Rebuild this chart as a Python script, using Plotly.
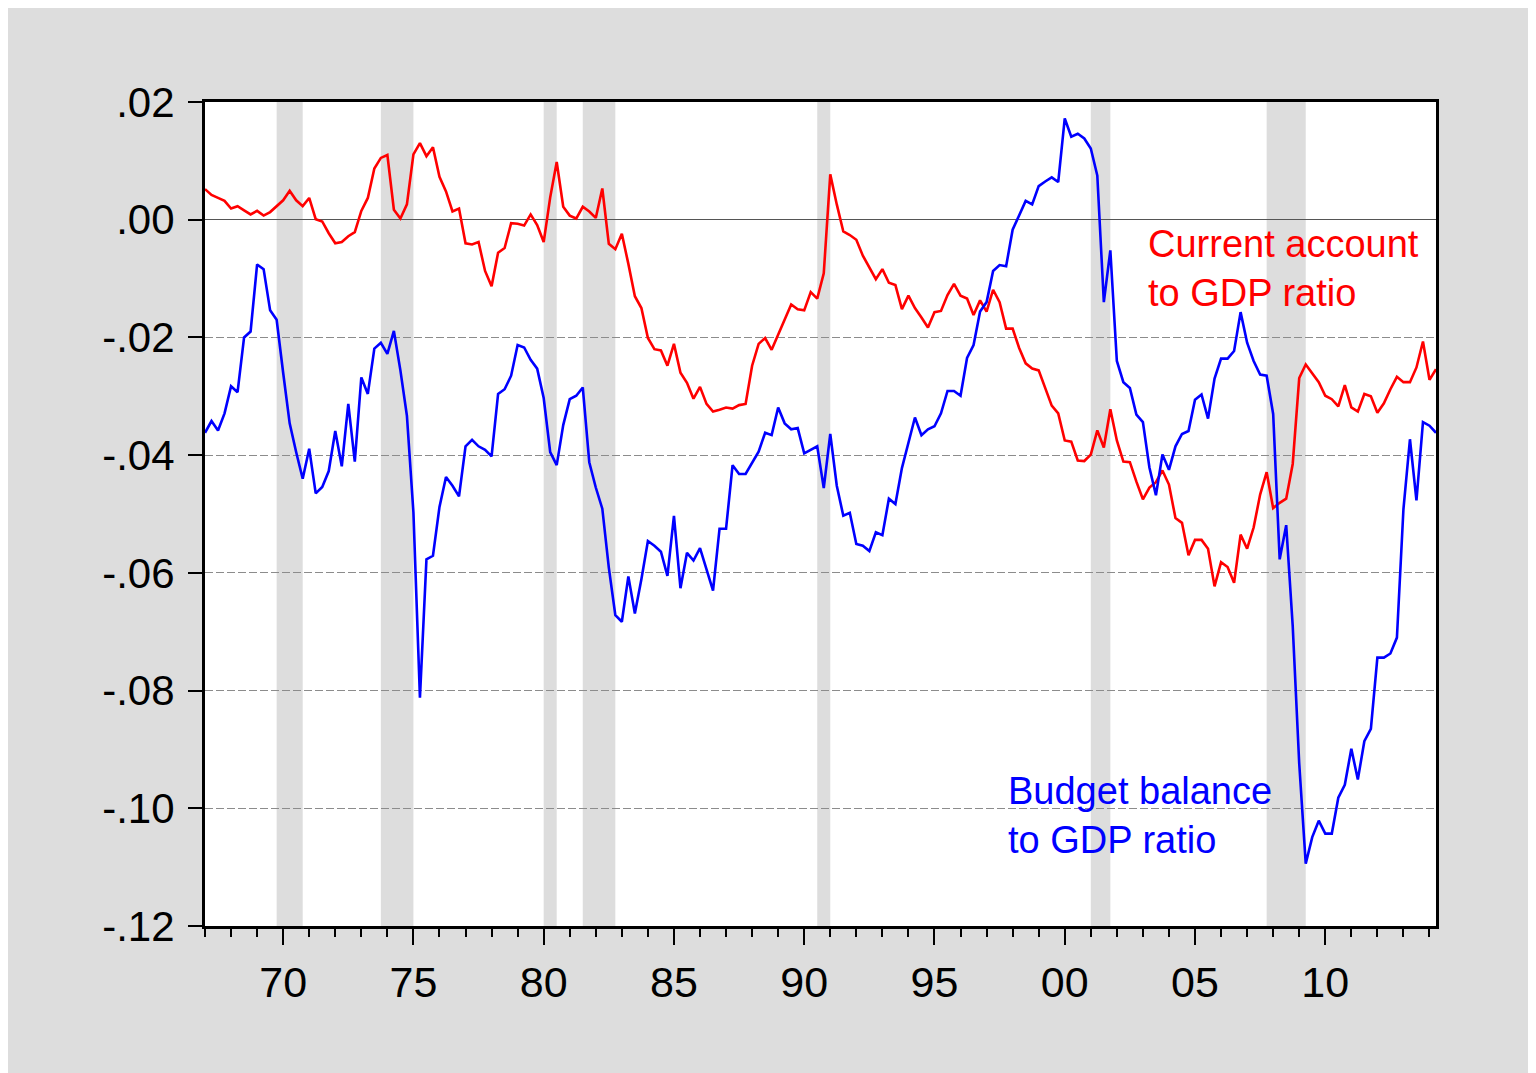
import numpy as np
import plotly.graph_objects as go

# ---------------- data (quarterly, 1967Q1 - 2014Q2) ----------------
start_year = 1967

current_account = [
    0.0052, 0.0042, 0.0037, 0.0032, 0.0019, 0.0023, 0.0016, 0.0009, 0.0015, 0.0007,
    0.0013, 0.0023, 0.0033, 0.0049, 0.0033, 0.0023, 0.0037, 0.0001, -0.0003, -0.0023,
    -0.0040, -0.0038, -0.0028, -0.0021, 0.0015, 0.0037, 0.0087, 0.0105, 0.0110, 0.0017,
    0.0002, 0.0026, 0.0111, 0.0130, 0.0108, 0.0123, 0.0073, 0.0048, 0.0014, 0.0019,
    -0.0040, -0.0042, -0.0038, -0.0087, -0.0113, -0.0056, -0.0048, -0.0006, -0.0007, -0.0010,
    0.0009, -0.0009, -0.0038, 0.0038, 0.0098, 0.0022, 0.0007, 0.0002, 0.0022, 0.0014,
    0.0003, 0.0053, -0.0041, -0.0050, -0.0024, -0.0075, -0.0130, -0.0150, -0.0201, -0.0220,
    -0.0222, -0.0248, -0.0211, -0.0260, -0.0277, -0.0304, -0.0284, -0.0313, -0.0326, -0.0323,
    -0.0319, -0.0321, -0.0315, -0.0313, -0.0248, -0.0211, -0.0201, -0.0221, -0.0195, -0.0168,
    -0.0144, -0.0152, -0.0154, -0.0123, -0.0134, -0.0091, 0.0077, 0.0026, -0.0020, -0.0026,
    -0.0034, -0.0061, -0.0081, -0.0101, -0.0084, -0.0107, -0.0111, -0.0152, -0.0129, -0.0150,
    -0.0166, -0.0183, -0.0157, -0.0155, -0.0128, -0.0109, -0.0129, -0.0134, -0.0162, -0.0137,
    -0.0156, -0.0119, -0.0140, -0.0185, -0.0185, -0.0218, -0.0244, -0.0253, -0.0256, -0.0286,
    -0.0316, -0.0329, -0.0375, -0.0377, -0.0409, -0.0410, -0.0399, -0.0358, -0.0387, -0.0322,
    -0.0375, -0.0411, -0.0412, -0.0445, -0.0475, -0.0455, -0.0446, -0.0426, -0.0450, -0.0507,
    -0.0515, -0.0570, -0.0544, -0.0544, -0.0559, -0.0623, -0.0582, -0.0590, -0.0617, -0.0535,
    -0.0559, -0.0523, -0.0467, -0.0429, -0.0490, -0.0481, -0.0474, -0.0415, -0.0269, -0.0246,
    -0.0260, -0.0276, -0.0299, -0.0305, -0.0317, -0.0281, -0.0319, -0.0326, -0.0296, -0.0300,
    -0.0328, -0.0312, -0.0288, -0.0267, -0.0276, -0.0276, -0.0251, -0.0207, -0.0272, -0.0254,
]

budget_balance = [
    -0.0362, -0.0342, -0.0358, -0.0329, -0.0283, -0.0293, -0.0200, -0.0190, -0.0076, -0.0084,
    -0.0154, -0.0170, -0.0260, -0.0346, -0.0395, -0.0440, -0.0389, -0.0465, -0.0454, -0.0427,
    -0.0359, -0.0419, -0.0313, -0.0411, -0.0268, -0.0296, -0.0219, -0.0209, -0.0228, -0.0189,
    -0.0256, -0.0333, -0.0497, -0.0812, -0.0577, -0.0571, -0.0488, -0.0437, -0.0452, -0.0470,
    -0.0385, -0.0374, -0.0385, -0.0391, -0.0402, -0.0296, -0.0288, -0.0265, -0.0213, -0.0217,
    -0.0238, -0.0253, -0.0303, -0.0395, -0.0417, -0.0349, -0.0305, -0.0299, -0.0285, -0.0412,
    -0.0455, -0.0491, -0.0591, -0.0672, -0.0683, -0.0606, -0.0669, -0.0611, -0.0546, -0.0554,
    -0.0564, -0.0605, -0.0503, -0.0626, -0.0566, -0.0579, -0.0558, -0.0594, -0.0630, -0.0525,
    -0.0525, -0.0417, -0.0432, -0.0432, -0.0414, -0.0394, -0.0362, -0.0366, -0.0319, -0.0346,
    -0.0356, -0.0354, -0.0397, -0.0391, -0.0385, -0.0456, -0.0364, -0.0452, -0.0503, -0.0498,
    -0.0551, -0.0554, -0.0563, -0.0531, -0.0536, -0.0474, -0.0483, -0.0422, -0.0377, -0.0336,
    -0.0366, -0.0356, -0.0351, -0.0329, -0.0291, -0.0291, -0.0299, -0.0235, -0.0213, -0.0156,
    -0.0140, -0.0087, -0.0077, -0.0079, -0.0017, 0.0007, 0.0032, 0.0026, 0.0057, 0.0065,
    0.0072, 0.0064, 0.0172, 0.0141, 0.0146, 0.0138, 0.0121, 0.0075, -0.0140, -0.0052,
    -0.0240, -0.0276, -0.0286, -0.0331, -0.0344, -0.0421, -0.0468, -0.0399, -0.0425, -0.0385,
    -0.0364, -0.0359, -0.0306, -0.0297, -0.0338, -0.0270, -0.0236, -0.0236, -0.0223, -0.0157,
    -0.0209, -0.0240, -0.0263, -0.0265, -0.0330, -0.0577, -0.0519, -0.0690, -0.0924, -0.1094,
    -0.1049, -0.1021, -0.1043, -0.1043, -0.0982, -0.0960, -0.0899, -0.0951, -0.0886, -0.0865,
    -0.0744, -0.0744, -0.0737, -0.0710, -0.0492, -0.0373, -0.0477, -0.0344, -0.0350, -0.0362,
]

# NBER recessions (peak quarter, trough quarter) in decimal years
recession_start = [1969.75, 1973.75, 1980.0, 1981.5, 1990.5, 2001.0, 2007.75]
recession_end = [1970.75, 1975.0, 1980.5, 1982.75, 1991.0, 2001.75, 2009.25]

x_tick_years = [1970, 1975, 1980, 1985, 1990, 1995, 2000, 2005, 2010]
x_tick_labels = ["70", "75", "80", "85", "90", "95", "00", "05", "10"]
y_tick_vals = [0.02, 0.0, -0.02, -0.04, -0.06, -0.08, -0.10, -0.12]
y_tick_labels = [".02", ".00", "-.02", "-.04", "-.06", "-.08", "-.10", "-.12"]

# ---------------- figure ----------------
t = start_year + np.arange(len(current_account)) / 4.0

FONT = "Arial, 'Liberation Sans', sans-serif"
W, H = 1536, 1073
ML, MR, MT, MB = 197, 108, 94, 155

fig = go.Figure()
fig.add_trace(go.Scatter(x=t, y=current_account, mode="lines",
                         line=dict(color="#FF0000", width=2.6),
                         name="Current account to GDP ratio", showlegend=False,
                         hoverinfo="skip"))
fig.add_trace(go.Scatter(x=t, y=budget_balance, mode="lines",
                         line=dict(color="#0000FF", width=2.6),
                         name="Budget balance to GDP ratio", showlegend=False,
                         hoverinfo="skip"))

shapes = []
for s, e in zip(recession_start, recession_end):
    shapes.append(dict(type="rect", xref="x", yref="paper", x0=s, x1=e, y0=0, y1=1,
                       fillcolor="#DDDDDD", line=dict(width=0), layer="below"))

fig.update_layout(
    width=W, height=H,
    margin=dict(l=ML, r=MR, t=MT, b=MB),
    paper_bgcolor="#DDDDDD",
    plot_bgcolor="white",
    shapes=shapes,
    showlegend=False,
    font=dict(family=FONT, color="black"),
    xaxis=dict(
        range=[start_year, start_year + (len(current_account) - 1) / 4.0],
        tickvals=x_tick_years, ticktext=x_tick_labels,
        ticks="outside", ticklen=16, tickwidth=1.5, tickcolor="black",
        minor=dict(ticks="outside", ticklen=8, tickwidth=1.5, tickcolor="black",
                   tick0=start_year, dtick=1, showgrid=False),
        showgrid=False, zeroline=False,
        showline=True, linecolor="black", linewidth=3, mirror=True,
        tickfont=dict(size=43, family=FONT, color="black"),
        ticklabelstandoff=0,
    ),
    yaxis=dict(
        range=[-0.12, 0.02],
        tickvals=y_tick_vals, ticktext=y_tick_labels,
        ticks="outside", ticklen=14, tickwidth=1.5, tickcolor="black",
        showgrid=True, gridcolor="#8C8C8C", gridwidth=1, griddash="8px,3px",
        zeroline=True, zerolinecolor="#555555", zerolinewidth=1.2,
        showline=True, linecolor="black", linewidth=3, mirror=True,
        tickfont=dict(size=42, family=FONT, color="black"),
        ticklabelstandoff=5,
    ),
    annotations=[
        dict(x=2003.1, y=-0.0083, xref="x", yref="y", xanchor="left", yanchor="middle",
             text="Current account<br>to GDP ratio", showarrow=False, align="left",
             font=dict(size=38, color="#FF0000", family=FONT)),
        dict(x=1997.75, y=-0.1013, xref="x", yref="y", xanchor="left", yanchor="middle",
             text="Budget balance<br>to GDP ratio", showarrow=False, align="left",
             font=dict(size=38, color="#0000FF", family=FONT)),
    ],
)

fig.write_html("out.html")
